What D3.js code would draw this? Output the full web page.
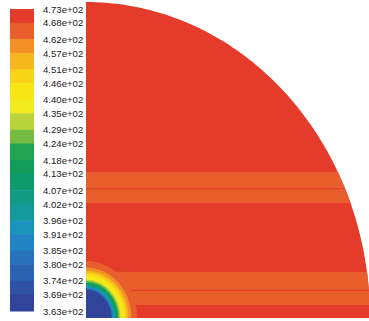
<!DOCTYPE html>
<html>
<head>
<meta charset="utf-8">
<script src="https://cdn.jsdelivr.net/npm/d3@7/dist/d3.min.js"></script>
<style>
  html, body { margin: 0; padding: 0; background: #ffffff; }
  svg { display: block; }
</style>
</head>
<body>
<svg id="chart" width="369" height="321"></svg>
<script>
// ---- Data ----
// Colour-bar levels (K), top to bottom
const levelValues = [473, 468, 462, 457, 451, 446, 440, 435, 429, 424, 418, 413, 407, 402, 396, 391, 385, 380, 374, 369, 363];
const levelLabels = ["4.73e+02", "4.68e+02", "4.62e+02", "4.57e+02", "4.51e+02", "4.46e+02", "4.40e+02",
                     "4.35e+02", "4.29e+02", "4.24e+02", "4.18e+02", "4.13e+02", "4.07e+02", "4.02e+02",
                     "3.96e+02", "3.91e+02", "3.85e+02", "3.80e+02", "3.74e+02", "3.69e+02", "3.63e+02"];
// Band colours, band 0 = hottest (top)
const bandColors = ["#e53b2a", "#e95e2d", "#f29026", "#f6b61e", "#f8d418", "#f7e614", "#f2ea1c",
                    "#b8d43a", "#74bb44", "#22a552", "#139c5c", "#0f9a6c", "#129a84", "#16999c",
                    "#1c93bc", "#2384c4", "#2872bc", "#2b62b2", "#2e52a6", "#30459a"];
// Contour content of the quarter section (normalised coordinates)
// Horizontal stripes: lower / upper edge (fraction of radius) and band index
const stripeLow  = [0.364, 0.411, 0.041, 0.089];
const stripeHigh = [0.408, 0.462, 0.085, 0.146];
const stripeBand = [1, 1, 1, 1];
// Rings around the cold core at the origin: outer radius (fraction) and band index
const ringRadius = [0.180, 0.160, 0.150, 0.143, 0.137, 0.130, 0.122, 0.118, 0.114, 0.111,
                    0.108, 0.105, 0.102, 0.099, 0.096, 0.094, 0.092, 0.090, 0.088];
const ringBand   = [1, 2, 3, 4, 5, 6, 7, 8, 9, 10, 11, 12, 13, 14, 15, 16, 17, 18, 19];
const backgroundBand = 0;

// ---- Drawing ----
const svg = d3.select("#chart");

// Colour bar
const barX0 = 10, barX1 = 34, barTop = 9, barBottom = 311;
const barScale = d3.scaleLinear()
  .domain([d3.min(levelValues), d3.max(levelValues)])
  .range([barBottom, barTop]);

svg.append("g").selectAll("rect")
  .data(bandColors)
  .join("rect")
  .attr("x", barX0)
  .attr("width", barX1 - barX0)
  .attr("y", (d, i) => barScale(levelValues[i]))
  .attr("height", (d, i) => barScale(levelValues[i + 1]) - barScale(levelValues[i]) + 0.5)
  .attr("fill", d => d);

const labelAxis = d3.axisRight(barScale)
  .tickValues(levelValues)
  .tickSize(0)
  .tickPadding(0)
  .tickFormat((d, i) => levelLabels[i]);

const axisG = svg.append("g")
  .attr("transform", `translate(${43},0)`)
  .call(labelAxis);
axisG.select(".domain").remove();
axisG.selectAll("text")
  .attr("font-family", "Liberation Sans, Arial, sans-serif")
  .attr("font-size", 9.6)
  .attr("fill", "#1a1a1a");

// Quarter section
const x = d3.scaleLinear().domain([0, 1]).range([86, 370]);
const y = d3.scaleLinear().domain([0, 1]).range([318, 2]);

const outline = d3.range(0, 91, 1).map(a => {
  const t = a * Math.PI / 180;
  return [x(Math.cos(t)), y(Math.sin(t))];
});
outline.push([x(0), y(0)]);

svg.append("defs").append("clipPath")
  .attr("id", "quarter")
  .append("path")
  .attr("d", d3.line()(outline) + "Z");

const plot = svg.append("g").attr("clip-path", "url(#quarter)");

plot.append("rect")
  .attr("x", x(0)).attr("y", y(1))
  .attr("width", x(1) - x(0)).attr("height", y(0) - y(1))
  .attr("fill", bandColors[backgroundBand]);

plot.selectAll("rect.stripe")
  .data(stripeLow)
  .join("rect")
  .attr("class", "stripe")
  .attr("x", x(0))
  .attr("width", x(1) - x(0))
  .attr("y", (d, i) => y(stripeHigh[i]))
  .attr("height", (d, i) => y(stripeLow[i]) - y(stripeHigh[i]))
  .attr("fill", (d, i) => bandColors[stripeBand[i]]);

plot.selectAll("ellipse")
  .data(ringRadius)
  .join("ellipse")
  .attr("cx", x(0))
  .attr("cy", y(0))
  .attr("rx", d => x(d) - x(0))
  .attr("ry", d => y(0) - y(d))
  .attr("fill", (d, i) => bandColors[ringBand[i]]);
</script>
</body>
</html>
